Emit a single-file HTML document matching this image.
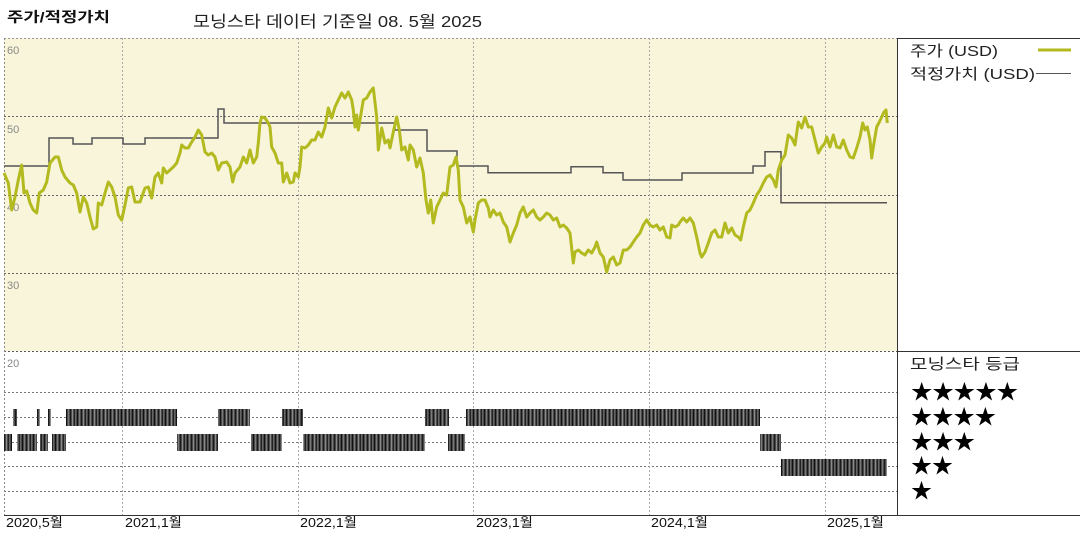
<!DOCTYPE html>
<html>
<head>
<meta charset="utf-8">
<style>
html,body{margin:0;padding:0;background:#fff;}
body{width:1080px;height:540px;overflow:hidden;}
svg{display:block;}
text{font-family:"Liberation Sans","Noto Sans CJK KR",sans-serif;}
</style>
</head>
<body>
<svg width="1080" height="540" viewBox="0 0 1080 540" xmlns="http://www.w3.org/2000/svg">
<defs>
<pattern id="bars" patternUnits="userSpaceOnUse" width="11" height="20" x="0" y="0">
<rect width="11" height="20" fill="#4a4a4a"/>
<rect x="0" width="1" height="20" fill="#111"/>
<rect x="2" width="1" height="20" fill="#7a7a7a"/>
<rect x="4" width="1" height="20" fill="#1a1a1a"/>
<rect x="6" width="1" height="20" fill="#8a8a8a"/>
<rect x="8" width="1" height="20" fill="#222"/>
<rect x="9" width="1" height="20" fill="#666"/>
</pattern>
</defs>

<!-- Titles -->
<text x="7" y="22" font-size="14" font-weight="bold" fill="#111" textLength="103" lengthAdjust="spacingAndGlyphs">주가/적정가치</text>
<text x="193" y="27" font-size="16" fill="#222" textLength="289" lengthAdjust="spacingAndGlyphs">모닝스타 데이터 기준일 08. 5월 2025</text>

<!-- top panel background -->
<rect x="4" y="38" width="893" height="313" fill="#f8f5da"/>

<!-- horizontal grid top panel -->
<g stroke="#666" stroke-width="1" stroke-dasharray="2,2" fill="none">
<line x1="4" y1="38.5" x2="897" y2="38.5" stroke="#999"/>
<line x1="4" y1="116.5" x2="897" y2="116.5"/>
<line x1="4" y1="195.5" x2="897" y2="195.5"/>
<line x1="4" y1="273.5" x2="897" y2="273.5"/>
<line x1="4" y1="351.5" x2="897" y2="351.5" stroke="#555"/>
</g>
<!-- lower panel grid -->
<g stroke="#777" stroke-width="1" stroke-dasharray="2,2" fill="none">
<line x1="4" y1="392.5" x2="897" y2="392.5"/>
<line x1="4" y1="417.5" x2="897" y2="417.5"/>
<line x1="4" y1="442.5" x2="897" y2="442.5"/>
<line x1="4" y1="466.5" x2="897" y2="466.5"/>
<line x1="4" y1="491.5" x2="897" y2="491.5"/>
</g>
<!-- vertical grid -->
<g stroke="#aaa" stroke-width="1" stroke-dasharray="2,2" fill="none">
<line x1="4.5" y1="38" x2="4.5" y2="516" stroke="#888"/>
<line x1="122.5" y1="38" x2="122.5" y2="516"/>
<line x1="298.5" y1="38" x2="298.5" y2="516"/>
<line x1="473.5" y1="38" x2="473.5" y2="516"/>
<line x1="649.5" y1="38" x2="649.5" y2="516"/>
<line x1="825.5" y1="38" x2="825.5" y2="516"/>
</g>

<!-- y labels -->
<g font-size="11" fill="#888">
<text x="7" y="54">60</text>
<text x="7" y="133">50</text>
<text x="7" y="211">40</text>
<text x="7" y="289">30</text>
<text x="7" y="367">20</text>
</g>

<!-- fair value step line -->
<polyline fill="none" stroke="#555" stroke-width="1.5" points="4,166 49,166 49,138 73,138 73,144 92,144 92,138 123,138 123,144 145,144 145,138 218,138 218,109 224,109 224,123 395,123 395,130 427,130 427,151 457,151 457,166 488,166 488,172.7 571,172.7 571,166.7 603,166.7 603,172.7 623,172.7 623,180 682,180 682,173 753,173 753,166 765,166 765,151.7 781,151.7 781,202.7 887,202.7"/>

<!-- price line -->
<polyline fill="none" stroke="#b3ba1f" stroke-width="3" stroke-linejoin="round" points="4,173 8.3,183 11.7,210 15,197 18.3,180 21.7,165 24,193 26.7,191 30,203 33.3,210 36.7,213 39.3,193 43.3,190 46.7,182 50,163 55,157 58.3,157 61.7,170 65,177 70,183 73.3,185 76.7,193 80,212 83.3,197 86.7,203 90,217 93.3,229 96.7,227 98.3,203 101.7,205 105,193 108.3,182 111.7,187 115,197 118.3,215 121.7,220 125,205 128.3,188 131.7,187 135,202 140,202 145,188 148.3,187 151.7,198 155,177 158.3,173 161.7,183 163.3,168 166.7,173 170,170 173.3,167 176.7,163 180,153 181.7,145 185,148 188.3,148 191.7,142 195,137 198.3,130 201.7,135 205,152 208.3,155 211.7,153 215,157 218.3,170 221.7,163 226.7,162 230,167 232.7,182 235,173 240,167 243.3,157 246.7,163 250,150 253.3,163 256.7,157 258.3,143 260,123 261.7,117 265,118 268.3,123 270,127 271.7,147 275,153 278.3,163 281.7,163 283.3,182 286.7,173 290,183 293.3,182 295,173 298.3,177 300,167 301.7,147 305,148 308.3,145 311.7,140 315,140 318.3,132 321.7,137 325,127 328.3,108 331.7,118 335,107 338.3,100 341.7,93 345,98 348.3,92 351.7,100 353.3,110 355,127 356.7,115 358.3,130 360,120 363.3,100 366.7,98 370,92 373.3,88 376.7,117 378.3,150 381.7,128 385,143 388.3,140 390,148 393.3,132 396.7,117 399.3,130 401.7,150 405,147 408.3,160 410,145 413.3,150 416.7,167 420,158 423.3,173 426,200 428.3,213 430.7,200 433.3,223 436.7,207 440,200 443.3,193 446.7,195 450,167 453.3,165 456,157 458.3,170 460,200 463.3,207 466.7,223 470,217 473.3,232 475,220 478.3,203 481.7,200 485,200 488.3,208 490,217 493.3,210 496.7,215 500,213 503.3,222 506.7,227 510,242 513.3,233 516.7,225 520,213 523.3,207 526.7,217 530,213 533.3,210 536.7,217 540,220 543.3,217 546.7,213 550,215 553.3,220 556.7,218 560,227 563.3,225 566.7,228 570,233 573.3,263 575,252 578.3,250 581.7,253 585,255 588.3,250 591.7,253 595,247 596.7,242 600,253 603.3,257 606.7,272 610,260 613.3,257 616.7,265 620,263 623.3,250 626.7,250 630,247 633.3,242 636.7,237 640,233 643.3,225 646.7,220 650,225 653.3,227 656.7,225 660,230 663.3,227 666.7,237 670,238 671.7,225 675,227 678.3,225 680,222 683.3,218 686.7,222 690,218 693.3,223 696.7,237 700,253 701.7,257 705,252 708.3,243 711.7,233 715,230 718.3,237 721.7,237 725,223 728.3,233 731.7,228 735,235 738.3,237 740.7,240 743.3,227 746.7,213 750,210 753.3,203 756.7,195 760,190 763.3,183 766.7,177 770,175 773.3,180 776,187 778.3,170 781.7,160 785,155 788.3,135 791.7,138 795,145 798.3,122 801.7,128 805,117 808.3,127 811.7,127 815,140 818.3,153 821.7,147 825,143 826.7,137 830,147 833.3,135 836.7,147 840,148 843.3,140 846.7,150 850,157 853.3,158 856.7,148 860,137 862.7,123 865,130 867.3,127 870,140 871.7,158 873.3,147 876.7,127 879.3,122 881.7,117 884,112 886,110 887.3,123"/>

<!-- rating bars -->
<g fill="url(#bars)">
<!-- 4 star row -->
<rect x="13" y="409" width="4" height="17"/>
<rect x="37" y="409" width="3" height="17"/>
<rect x="48" y="409" width="3" height="17"/>
<rect x="66" y="409" width="111" height="17"/>
<rect x="218" y="409" width="32" height="17"/>
<rect x="282" y="409" width="21" height="17"/>
<rect x="425" y="409" width="24" height="17"/>
<rect x="466" y="409" width="294" height="17"/>
<!-- 3 star row -->
<rect x="4" y="434" width="8" height="17"/>
<rect x="17" y="434" width="20" height="17"/>
<rect x="40" y="434" width="8" height="17"/>
<rect x="52" y="434" width="14" height="17"/>
<rect x="177" y="434" width="41" height="17"/>
<rect x="251" y="434" width="31" height="17"/>
<rect x="303" y="434" width="122" height="17"/>
<rect x="448" y="434" width="17" height="17"/>
<rect x="760" y="434" width="21" height="17"/>
<!-- 2 star row -->
<rect x="781" y="459" width="106" height="17"/>
</g>

<!-- frame lines -->
<g stroke="#333" stroke-width="1" fill="none">
<line x1="897" y1="38.5" x2="1080" y2="38.5"/>
<line x1="897.5" y1="38" x2="897.5" y2="516"/>
<line x1="897" y1="351.5" x2="1080" y2="351.5"/>
<line x1="4" y1="515.5" x2="1080" y2="515.5"/>
</g>

<!-- x labels -->
<g font-size="13" fill="#111">
<text x="6" y="527" textLength="57" lengthAdjust="spacingAndGlyphs">2020,5월</text>
<text x="125" y="527" textLength="57" lengthAdjust="spacingAndGlyphs">2021,1월</text>
<text x="300" y="527" textLength="57" lengthAdjust="spacingAndGlyphs">2022,1월</text>
<text x="476" y="527" textLength="57" lengthAdjust="spacingAndGlyphs">2023,1월</text>
<text x="651" y="527" textLength="57" lengthAdjust="spacingAndGlyphs">2024,1월</text>
<text x="827" y="527" textLength="57" lengthAdjust="spacingAndGlyphs">2025,1월</text>
</g>

<!-- legend -->
<g font-size="15" fill="#222">
<text x="910" y="56" textLength="88" lengthAdjust="spacingAndGlyphs">주가 (USD)</text>
<text x="910" y="79" textLength="125" lengthAdjust="spacingAndGlyphs">적정가치 (USD)</text>
<text x="910" y="369" textLength="110" lengthAdjust="spacingAndGlyphs">모닝스타 등급</text>
</g>
<line x1="1038" y1="50" x2="1071" y2="50" stroke="#b3ba1f" stroke-width="3"/>
<line x1="1036" y1="73.5" x2="1071" y2="73.5" stroke="#555" stroke-width="1"/>

<!-- stars -->
<g font-size="21" fill="#000" style="font-family:'DejaVu Sans',sans-serif">
<text x="911" y="399" textLength="107" lengthAdjust="spacingAndGlyphs">★★★★★</text>
<text x="911" y="424" textLength="85" lengthAdjust="spacingAndGlyphs">★★★★</text>
<text x="911" y="449" textLength="64" lengthAdjust="spacingAndGlyphs">★★★</text>
<text x="911" y="473" textLength="42" lengthAdjust="spacingAndGlyphs">★★</text>
<text x="911" y="498" textLength="21" lengthAdjust="spacingAndGlyphs">★</text>
</g>
</svg>
</body>
</html>
